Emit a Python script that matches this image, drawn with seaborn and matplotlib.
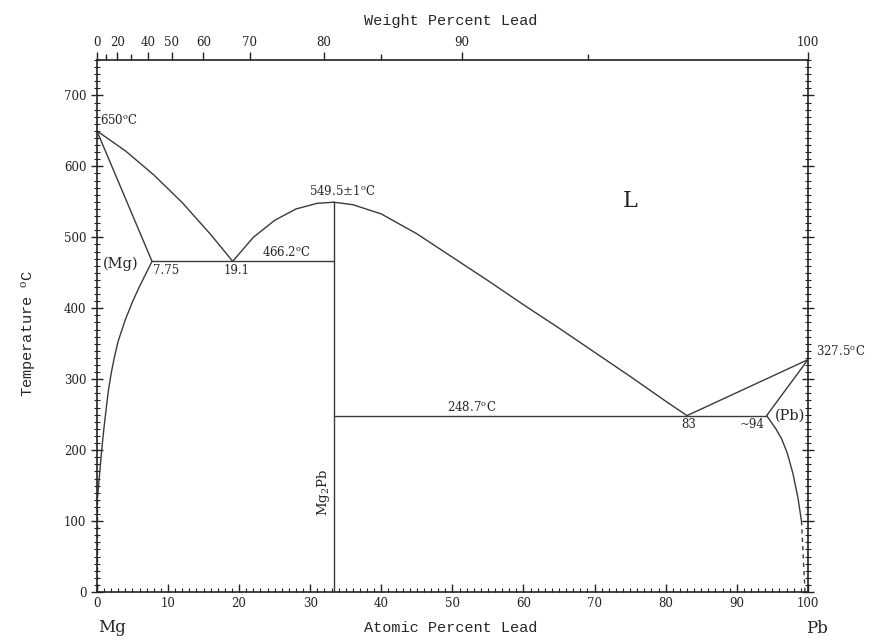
import numpy as np
import pandas as pd
import matplotlib
matplotlib.use("Agg")
import matplotlib.pyplot as plt
import seaborn as sns
from matplotlib.ticker import MultipleLocator

# Mg-Pb phase diagram, x = atomic percent Pb, y = temperature (C)
liq_left_x = [0, 4, 8, 12, 16, 19.1]
liq_left_t = [650, 622, 588, 549, 504, 466.2]
mg_solidus_x = [0, 7.75]
mg_solidus_t = [650, 466.2]
mg_solvus_x = [7.75, 7, 6, 5, 4, 3, 2.5, 2, 1.6, 1.3, 1.0, 0.7, 0.45, 0.25, 0.08]
mg_solvus_t = [466.2, 451, 431, 409, 384, 354, 333, 308, 283, 258, 232, 203, 175, 152, 132]
mg_solvus_dash_x = [0.05, 0.05]
mg_solvus_dash_t = [130, 0]
eut1_x = [7.75, 33.33]
eut1_t = [466.2, 466.2]
liq_mid_x = [19.1, 22, 25, 28, 31, 33.33]
liq_mid_t = [466.2, 500, 524, 540, 548, 549.5]
mg2pb_x = [33.33, 33.33]
mg2pb_t = [0, 549.5]
liq_right_x = [33.33, 36, 40, 45, 50, 55, 60, 65, 70, 75, 80, 83]
liq_right_t = [549.5, 546, 533, 505, 472, 439, 405, 372, 338, 304, 269, 248.7]
eut2_x = [33.33, 94.2]
eut2_t = [248.7, 248.7]
liq_pb_x = [83, 100]
liq_pb_t = [248.7, 327.5]
pb_solidus_x = [94.2, 100]
pb_solidus_t = [248.7, 327.5]
pb_solvus_x = [94.2, 94.8, 95.5, 96.3, 97.1, 97.9, 98.6, 99.1]
pb_solvus_t = [248.7, 240, 230, 216, 196, 167, 133, 100]
pb_solvus_dash_x = [99.1, 99.6]
pb_solvus_dash_t = [100, 0]

wt_ticks = [0, 10, 20, 30, 40, 50, 60, 70, 80, 85, 90, 95, 100]
wt_labels = ["0", "", "20", "", "40", "50", "60", "70", "80", "", "90", "", "100"]
wt_major = [True, False, True, False, True, True, True, True, True, False, True, False, True]

M_PB, M_MG = 207.2, 24.305


def wt_to_at(w):
    w = np.asarray(w, dtype=float)
    a = w / M_PB
    b = (100 - w) / M_MG
    return 100 * a / (a + b)


serif = ["DejaVu Serif"]
mono = ["Liberation Mono", "DejaVu Sans Mono"]

sns.set_theme(style="ticks")
plt.rcParams["font.family"] = serif
plt.rcParams["mathtext.fontset"] = "dejavuserif"

fig = plt.figure(figsize=(8.81, 6.41), dpi=100)
ax = fig.add_axes([0.110, 0.0764, 0.807, 0.830])
line_kw = dict(color="#3a3a3a", linewidth=1.0, sort=False, estimator=None, legend=False)

curves = [
    (liq_left_x, liq_left_t), (mg_solidus_x, mg_solidus_t), (mg_solvus_x, mg_solvus_t),
    (eut1_x, eut1_t), (liq_mid_x, liq_mid_t), (mg2pb_x, mg2pb_t),
    (liq_right_x, liq_right_t), (eut2_x, eut2_t), (liq_pb_x, liq_pb_t),
    (pb_solidus_x, pb_solidus_t), (pb_solvus_x, pb_solvus_t),
]
for xs, ts in curves:
    sns.lineplot(x=xs, y=ts, ax=ax, **line_kw)
for xs, ts in [(mg_solvus_dash_x, mg_solvus_dash_t), (pb_solvus_dash_x, pb_solvus_dash_t)]:
    sns.lineplot(x=xs, y=ts, ax=ax, linestyle=(0, (3, 3)), **line_kw)

ax.set_xlim(0, 100)
ax.set_ylim(0, 750)
ax.xaxis.set_major_locator(MultipleLocator(10))
ax.xaxis.set_minor_locator(MultipleLocator(1))
ax.yaxis.set_minor_locator(MultipleLocator(10))
ax.set_yticks(range(0, 701, 100))
ax.tick_params(axis="x", which="both", top=True, bottom=True, direction="in", labelsize=8.5, colors="#222222")
ax.tick_params(axis="x", which="major", length=6, width=1)
ax.tick_params(axis="x", which="minor", length=3, width=0.8)
ax.tick_params(axis="y", which="both", left=True, right=True, direction="inout", labelsize=8.5, colors="#222222")
ax.tick_params(axis="y", which="major", length=8, width=1)
ax.tick_params(axis="y", which="minor", length=5, width=0.8)
for s in ax.spines.values():
    s.set_color("#222222")
    s.set_linewidth(1.2)

# top axis in weight percent
top = ax.twiny()
top.set_xlim(ax.get_xlim())
top.set_xticks(wt_to_at(wt_ticks))
top.set_xticklabels(wt_labels)
top.tick_params(axis="x", direction="out", length=6, width=1, labelsize=8.5, colors="#222222", pad=2)
for tk, major in zip(top.xaxis.get_major_ticks(), wt_major):
    if not major:
        tk.tick2line.set_markersize(4)
for s in top.spines.values():
    s.set_visible(False)

fs = 8.5
ax.text(0.5, 655, r"650$^{\rm o}$C", fontsize=fs, ha="left", va="bottom")
ax.text(0.9, 463, "(Mg)", fontsize=10.5, ha="left", va="center")
ax.text(7.9, 462, "7.75", fontsize=fs, ha="left", va="top")
ax.text(19.6, 462, "19.1", fontsize=fs, ha="center", va="top")
ax.text(26.6, 469, r"466.2$^{\rm o}$C", fontsize=fs, ha="center", va="bottom")
ax.text(34.5, 555, r"549.5$\pm$1$^{\rm o}$C", fontsize=fs, ha="center", va="bottom")
ax.text(75, 551, "L", fontsize=16, ha="center", va="center")
ax.text(52.7, 251, r"248.7$^{\rm o}$C", fontsize=fs, ha="center", va="bottom")
ax.text(83.3, 245, "83", fontsize=fs, ha="center", va="top")
ax.text(92.2, 245, "~94", fontsize=fs, ha="center", va="top")
ax.text(97.5, 248, "(Pb)", fontsize=10.5, ha="center", va="center")
ax.text(101.2, 330, r"327.5$^{\rm o}$C", fontsize=fs, ha="left", va="bottom", clip_on=False)
ax.text(31.9, 140, r"Mg$_2$Pb", fontsize=9.5, ha="center", va="center", rotation=90)
ax.text(0.2, -50, "Mg", fontsize=12, ha="left", va="center", clip_on=False)
ax.text(99.8, -52, "Pb", fontsize=12, ha="left", va="center", clip_on=False)

fig.text(0.511, 0.020, "Atomic Percent Lead", fontsize=11, ha="center", va="center", family=mono)
fig.text(0.511, 0.968, "Weight Percent Lead", fontsize=11, ha="center", va="center", family=mono)
fig.text(0.034, 0.48, r"Temperature $^{\rm o}$C", fontsize=11, ha="center", va="center",
         rotation=90, family=mono)

fig.savefig("out.png", dpi=100, facecolor="white")
